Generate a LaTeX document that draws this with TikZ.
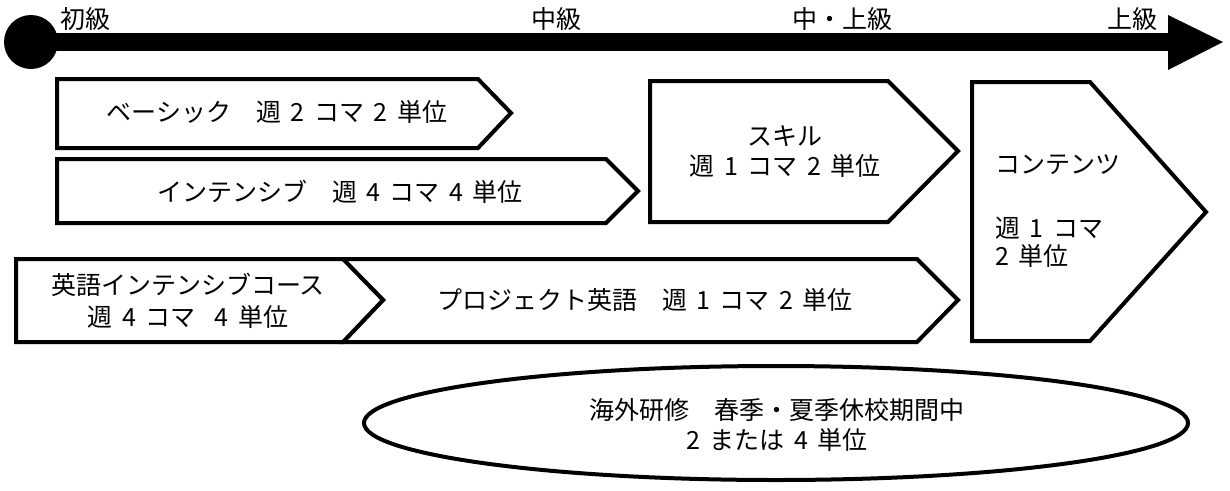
\documentclass[tikz,border=0pt]{standalone}
\usepackage{fontspec}
\setmainfont[WordSpace=1.7]{Noto Sans CJK JP}
\usetikzlibrary{shapes.geometric}
\begin{document}
\begin{tikzpicture}[x=1pt,y=-1pt,
  box/.style={draw=black,line width=4pt,line join=miter,fill=white},
  lbl/.style={font=\fontsize{25}{30}\selectfont,inner sep=0pt,align=center},
  lvl/.style={font=\fontsize{25}{30}\selectfont,inner sep=0pt}]
\useasboundingbox (0,0) rectangle (1230,490);
% axis
\fill (31,42) circle (27);
\draw[line width=18pt] (31,42) -- (1172,42);
\fill (1168,15) -- (1223,42) -- (1168,70) -- cycle;
\node[lvl] (l1) at (85,19) {初級};
\node[lvl] (l2) at (556,19) {中級};
\node[lvl] (l3) at (842,19) {中・上級};
\node[lvl] (l4) at (1132,19) {上級};
% shapes
\draw[box] (57,79) -- (478,79) -- (511,113) -- (478,148) -- (57,148) -- cycle;
\draw[box] (57,159) -- (606,159) -- (638,191) -- (606,223) -- (57,223) -- cycle;
\draw[box] (650,81) -- (888,81) -- (958,151) -- (888,222) -- (650,222) -- cycle;
\draw[box] (972,82) -- (1090,82) -- (1206,212) -- (1090,341) -- (972,341) -- cycle;
\draw[box] (343,259) -- (917,259) -- (958,300) -- (917,342) -- (343,342) -- (383,300) -- cycle;
\draw[box] (16,259) -- (343,259) -- (383,300) -- (343,342) -- (16,342) -- cycle;
\draw[line width=4pt] (776,423) ellipse [x radius=412, y radius=57];
% texts
\node[lbl] (basic) at (277,112) {ベーシック　週 2 コマ 2 単位};
\node[lbl] (inten) at (340,192) {インテンシブ　週 4 コマ 4 単位};
\node[lbl] (skill) at (785,152) {スキル\\週 1 コマ 2 単位};
\node[lbl] (cont1) at (995,165) [anchor=west] {コンテンツ};
\node[lbl,anchor=north west,align=left] (cont2) at (995,217) {週 1 コマ\\[-2pt]2 単位};
\node[lbl] (eng) at (188,301) {英語インテンシブコース\\[2pt]週 4 コマ\ \ 4 単位};
\node[lbl] (proj) at (645,300) {プロジェクト英語　週 1 コマ 2 単位};
\node[lbl] (abroad) at (777,425) {海外研修　春季・夏季休校期間中\\2 または 4 単位};
\end{tikzpicture}
\end{document}
